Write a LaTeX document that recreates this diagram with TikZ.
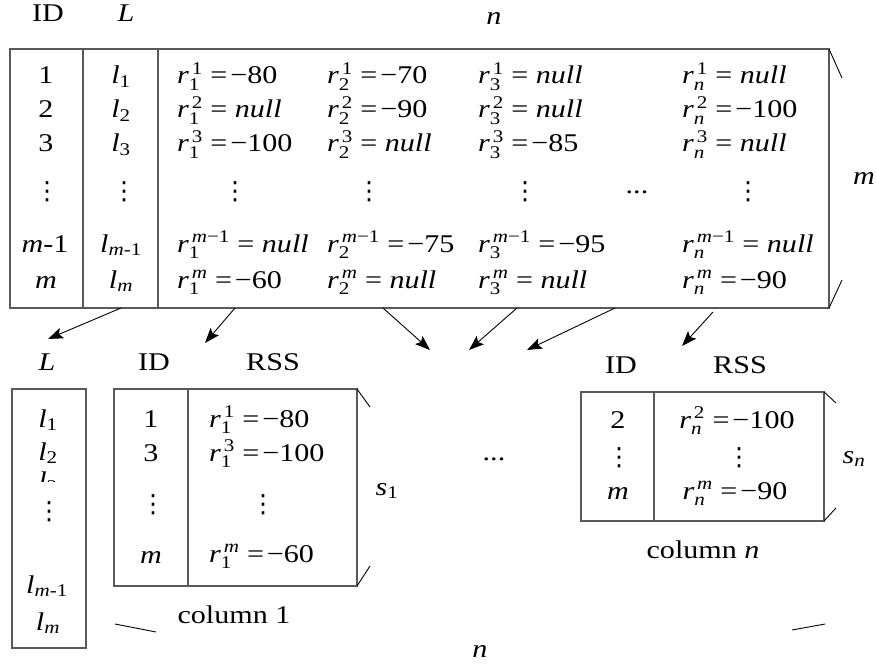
\documentclass[tikz,border=0pt]{standalone}
\usepackage{fontspec}
\setmainfont[FakeStretch=1.18]{Liberation Serif}
\newfontfamily\djv{DejaVu Sans}
\usepackage{amsmath}
\usetikzlibrary{arrows.meta}
\newcommand{\rs}[2]{$\textit{r}^{\,\text{#2}}_{\text{#1}}$}
\newcommand{\li}[1]{\textit{l}$_{\text{#1}}$}
\newcommand{\vd}{{\djv\fontsize{25}{25}\selectfont ⋮}}
\newcommand{\eqm}{=\kern3pt−}
\begin{document}
\begin{tikzpicture}[x=1pt,y=-1pt,
  every node/.style={font=\fontsize{25.5}{30}\selectfont, inner sep=0pt},
  txt/.style={anchor=base},
  lft/.style={anchor=base west},
  dots/.style={anchor=center},
  boxline/.style={draw=black!65, line width=1.2pt},
  brk/.style={draw=black, line width=0.9pt},
  arr/.style={draw=black, line width=0.9pt, -{Stealth[length=15pt,width=11pt,inset=3pt]}}]
\useasboundingbox (0,0) rectangle (877,668);

% ---------- top headers ----------
\node[txt] (hID) at (48,22) {ID};
\node[txt] (hL) at (126,22) {\textit{L}};
\node[txt] (hn) at (494,25) {\textit{n}};

% ---------- big table ----------
\coordinate (bt-nw) at (10,49);
\coordinate (bt-se) at (829,308);
\coordinate (bt-ne) at (829,49);
\draw[boxline] (bt-nw) rectangle (bt-se);
\coordinate (d1t) at (83,49);  \coordinate (d1b) at (83,308);
\coordinate (d2t) at (158,49); \coordinate (d2b) at (158,308);
\draw[boxline] (d1t) -- (d1b);
\draw[boxline] (d2t) -- (d2b);
\coordinate (bkt1) at (842,78);
\coordinate (bkt2) at (842,280);
\draw[brk] (bt-ne) -- (bkt1);
\draw[brk] (bt-se) -- (bkt2);
\node[txt] (mright) at (864,185) {\textit{m}};

% ID column
\node[txt] (id1) at (46,84) {1};
\node[txt] (id2) at (46,118) {2};
\node[txt] (id3) at (46,152) {3};
\node[dots] (idv) at (47,192) {\vd};
\node[txt] (idm1) at (45,252) {\textit{m}-1};
\node[txt] (idm) at (46,288) {\textit{m}};
% L column
\node[txt] (l1) at (121,84) {\li{1}};
\node[txt] (l2) at (121,118) {\li{2}};
\node[txt] (l3) at (121,152) {\li{3}};
\node[dots] (lv) at (124,192) {\vd};
\node[txt] (lm1) at (121,252) {\li{\textit{m}-1}};
\node[txt] (lm) at (121,288) {\li{\textit{m}}};
% r column 1
\node[lft] (a1) at (177,84) {\rs{1}{1} \eqm80};
\node[lft] (a2) at (177,118) {\rs{1}{2} = \textit{null}};
\node[lft] (a3) at (177,152) {\rs{1}{3} \eqm100};
\node[dots] (av) at (235,192) {\vd};
\node[lft] (am1) at (177,252) {\rs{1}{\textit{m}−1} = \textit{null}};
\node[lft] (am) at (177,288) {\rs{1}{\textit{m}} \eqm60};
% r column 2
\node[lft] (b1) at (327,84) {\rs{2}{1} \eqm70};
\node[lft] (b2) at (327,118) {\rs{2}{2} \eqm90};
\node[lft] (b3) at (327,152) {\rs{2}{3} = \textit{null}};
\node[dots] (bv) at (369,192) {\vd};
\node[lft] (bm1) at (327,252) {\rs{2}{\textit{m}−1} \eqm75};
\node[lft] (bm) at (327,288) {\rs{2}{\textit{m}} = \textit{null}};
% r column 3
\node[lft] (c1) at (478,84) {\rs{3}{1} = \textit{null}};
\node[lft] (c2) at (478,118) {\rs{3}{2} = \textit{null}};
\node[lft] (c3) at (478,152) {\rs{3}{3} \eqm85};
\node[dots] (cv) at (525,192) {\vd};
\node[lft] (cm1) at (478,252) {\rs{3}{\textit{m}−1} \eqm95};
\node[lft] (cm) at (478,288) {\rs{3}{\textit{m}} = \textit{null}};
% ellipsis
\node[txt] (ell1) at (637,194) {...};
% r column n
\node[lft] (e1) at (682,84) {\rs{\textit{n}}{1} = \textit{null}};
\node[lft] (e2) at (682,118) {\rs{\textit{n}}{2} \eqm100};
\node[lft] (e3) at (682,152) {\rs{\textit{n}}{3} = \textit{null}};
\node[dots] (ev) at (748,192) {\vd};
\node[lft] (em1) at (682,252) {\rs{\textit{n}}{\textit{m}−1} = \textit{null}};
\node[lft] (em) at (682,288) {\rs{\textit{n}}{\textit{m}} \eqm90};

% ---------- arrows ----------
\coordinate (s1) at (121,308); \coordinate (t1) at (48,339);
\coordinate (s2) at (235,308); \coordinate (t2) at (205,343);
\coordinate (s3) at (383,308); \coordinate (t3) at (430,350);
\coordinate (s4) at (517,308); \coordinate (t4) at (469,350);
\coordinate (s5) at (615,308); \coordinate (t5) at (527,350);
\coordinate (s6) at (713,312); \coordinate (t6) at (682,346);
\draw[arr] (s1) -- (t1);
\draw[arr] (s2) -- (t2);
\draw[arr] (s3) -- (t3);
\draw[arr] (s4) -- (t4);
\draw[arr] (s5) -- (t5);
\draw[arr] (s6) -- (t6);

% ---------- L column box ----------
\node[txt] (hL2) at (47,370) {\textit{L}};
\coordinate (lb-nw) at (12,389);
\coordinate (lb-se) at (86,648);
\draw[boxline] (lb-nw) rectangle (lb-se);
\node[txt] (ll1) at (48,427) {\li{1}};
\node[txt] (ll2) at (48,460) {\li{2}};
\begin{scope}
  \clip (12,466) rectangle (86,481);
  \node[txt] (ll3) at (48,489) {\li{3}};
\end{scope}
\node[dots] (llv) at (49,512) {\vd};
\node[txt] (llm1) at (47,593) {\li{\textit{m}-1}};
\node[txt] (llm) at (48,630) {\li{\textit{m}}};

% ---------- column 1 ----------
\node[txt] (hID1) at (154,370) {ID};
\node[txt] (hRSS1) at (273,370) {RSS};
\coordinate (c1-nw) at (114,389);
\coordinate (c1-se) at (357,586);
\coordinate (c1-ne) at (357,389);
\draw[boxline] (c1-nw) rectangle (c1-se);
\coordinate (c1dt) at (188,389); \coordinate (c1db) at (188,586);
\draw[boxline] (c1dt) -- (c1db);
\coordinate (c1k1) at (370,407);
\coordinate (c1k2) at (370,566);
\draw[brk] (c1-ne) -- (c1k1);
\draw[brk] (c1-se) -- (c1k2);
\node[txt] (p1) at (151,427) {1};
\node[txt] (p3) at (151,461) {3};
\node[dots] (pv) at (153,505) {\vd};
\node[txt] (pm) at (151,563) {\textit{m}};
\node[lft] (q1) at (209,427) {\rs{1}{1} \eqm80};
\node[lft] (q3) at (209,461) {\rs{1}{3} \eqm100};
\node[dots] (qv) at (263,505) {\vd};
\node[lft] (qm) at (209,562) {\rs{1}{\textit{m}} \eqm60};
\node[txt] (s1lab) at (387,495) {\textit{s}$_{\text{1}}$};
\node[txt] (col1) at (234,623) {column 1};

% ---------- middle ellipsis ----------
\node[txt] (ell2) at (494,460) {...};

% ---------- column n ----------
\node[txt] (hIDn) at (621,373) {ID};
\node[txt] (hRSSn) at (740,373) {RSS};
\coordinate (cn-nw) at (581,392);
\coordinate (cn-se) at (824,521);
\coordinate (cn-ne) at (824,392);
\draw[boxline] (cn-nw) rectangle (cn-se);
\coordinate (cndt) at (654,392); \coordinate (cndb) at (654,521);
\draw[boxline] (cndt) -- (cndb);
\coordinate (cnk1) at (836,403);
\coordinate (cnk2) at (836,508);
\draw[brk] (cn-ne) -- (cnk1);
\draw[brk] (cn-se) -- (cnk2);
\node[txt] (u2) at (618,428) {2};
\node[dots] (uv) at (619,458) {\vd};
\node[txt] (um) at (618,499) {\textit{m}};
\node[txt] (w2) at (737,428) {\rs{\textit{n}}{2} \eqm100};
\node[dots] (wv) at (739,458) {\vd};
\node[txt] (wm) at (735,499) {\rs{\textit{n}}{\textit{m}} \eqm90};
\node[txt] (snlab) at (854,463) {\textit{s}$_{\textit{n}}$};
\node[txt] (coln) at (703,558) {column \textit{n}};

% ---------- bottom n bracket ----------
\coordinate (nb1a) at (115,624); \coordinate (nb1b) at (156,632);
\coordinate (nb2a) at (792,630); \coordinate (nb2b) at (825,624);
\draw[brk] (nb1a) -- (nb1b);
\draw[brk] (nb2a) -- (nb2b);
\node[txt] (nbot) at (480,657) {\textit{n}};
\end{tikzpicture}
\end{document}
